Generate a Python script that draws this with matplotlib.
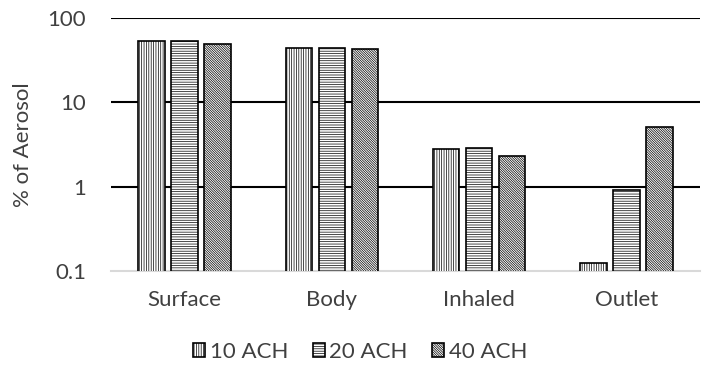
import matplotlib
matplotlib.use("Agg")
import matplotlib.pyplot as plt
import numpy as np

plt.rcParams["font.family"] = ["Lato", "DejaVu Sans"]
plt.rcParams["hatch.linewidth"] = 0.5

# data (log scale)
categories = ["Surface", "Body", "Inhaled", "Outlet"]
series_names = ["10 ACH", "20 ACH", "40 ACH"]
ach10 = [53.8, 43.6, 2.79, 0.126]
ach20 = [52.8, 43.6, 2.87, 0.91]
ach40 = [48.8, 43.2, 2.31, 5.09]
y_ticks = [0.1, 1, 10, 100]
y_tick_labels = ["0.1", "1", "10", "100"]

hatches = ["|" * 7, "-" * 7, "\\" * 14]
TXT = "#404040"

fig = plt.figure(figsize=(7.06, 3.71), dpi=100)
ax = fig.add_axes([111 / 706, 1 - 271 / 371, 589 / 706, 253 / 371])

x = np.arange(len(categories))
width = 0.18
step = 0.224
for i, (vals, hatch, name) in enumerate(zip([ach10, ach20, ach40], hatches, series_names)):
    ax.bar(x + (i - 1) * step, vals, width, color="white",
           edgecolor="black", linewidth=1.2, hatch=hatch, label=name, zorder=3)

ax.set_yscale("log")
ax.set_ylim(0.1, 100)
ax.set_xlim(-0.5, len(categories) - 0.5)
ax.set_yticks(y_ticks)
ax.set_yticklabels(y_tick_labels)
ax.minorticks_off()
ax.set_xticks(x)
ax.set_xticklabels(categories)
ax.tick_params(length=0, labelsize=16, colors=TXT)
ax.tick_params(axis="y", pad=18)
ax.tick_params(axis="x", pad=14)
for v in [1, 10, 100]:
    ax.axhline(v, color="black", linewidth=1.5, zorder=2)

for s in ["top", "right", "left"]:
    ax.spines[s].set_visible(False)
ax.spines["bottom"].set_color("#d9d9d9")
ax.spines["bottom"].set_linewidth(1.5)

ax.set_ylabel("% of Aerosol", fontsize=16, color=TXT, labelpad=10)

leg = fig.legend(loc="center", bbox_to_anchor=(0.51, 1 - 352 / 371), ncol=3,
                 frameon=False, fontsize=16, handlelength=0.55, handleheight=0.55,
                 handletextpad=0.2, columnspacing=1.1, labelcolor=TXT)

fig.savefig("out.png", dpi=100)
